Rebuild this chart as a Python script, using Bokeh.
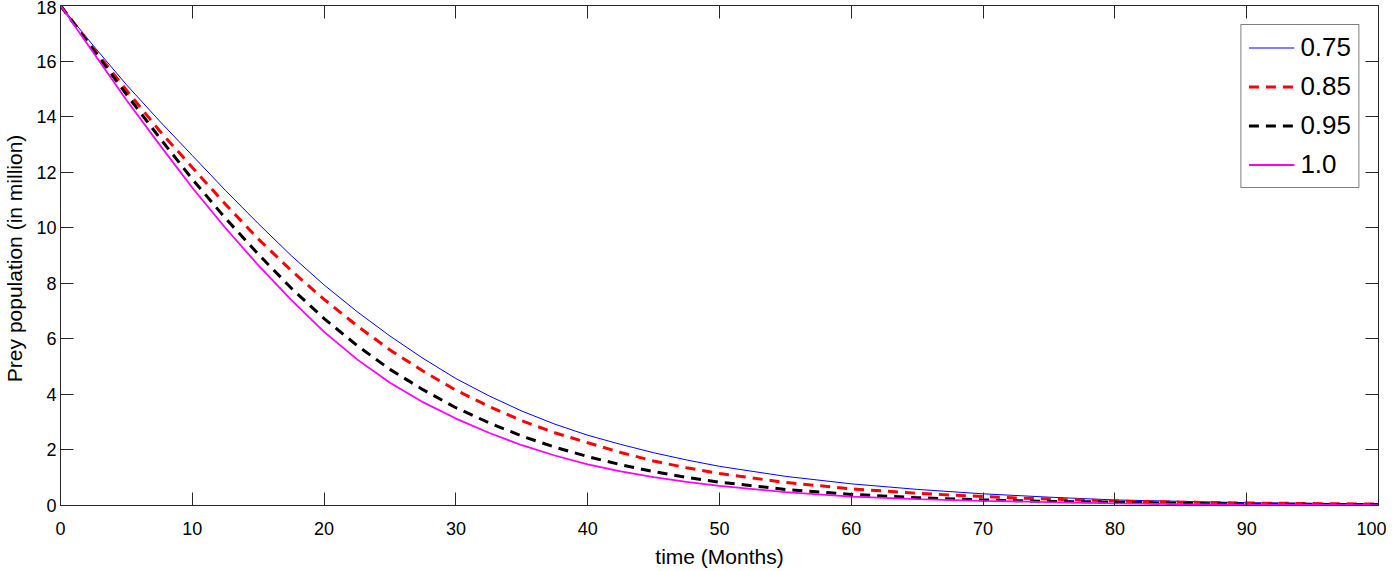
from bokeh.plotting import figure
from bokeh.models import LinearAxis, FixedTicker, Range1d, Legend, LegendItem
from bokeh.embed import file_html
from bokeh.resources import INLINE

months = [0, 2.5, 5, 7.5, 10, 12.5, 15, 17.5, 20, 22.5, 25, 27.5, 30, 32.5, 35, 37.5, 40, 42.5, 45, 47.5, 50,
          55, 60, 65, 70, 75, 80, 85, 90, 95, 100]
prey_075 = [18, 16.55, 15.15, 13.85, 12.6, 11.35, 10.15, 9.0, 7.94, 6.98, 6.1, 5.3, 4.57, 3.95, 3.4, 2.93, 2.53, 2.2, 1.9, 1.64, 1.41,
            1.05, 0.78, 0.58, 0.42, 0.3, 0.2, 0.15, 0.1, 0.08, 0.06]
prey_085 = [18, 16.45, 14.95, 13.5, 12.17, 10.85, 9.6, 8.46, 7.42, 6.47, 5.6, 4.84, 4.15, 3.57, 3.05, 2.62, 2.26, 1.91, 1.6, 1.36, 1.15,
            0.83, 0.6, 0.44, 0.32, 0.23, 0.16, 0.12, 0.09, 0.07, 0.05]
prey_095 = [18, 16.4, 14.8, 13.25, 11.75, 10.35, 9.05, 7.83, 6.73, 5.76, 4.9, 4.17, 3.52, 2.98, 2.5, 2.1, 1.76, 1.47, 1.22, 1.01, 0.84,
            0.58, 0.4, 0.28, 0.2, 0.15, 0.12, 0.08, 0.05, 0.04, 0.03]
prey_100 = [18, 16.3, 14.6, 13.0, 11.44, 10.0, 8.65, 7.4, 6.25, 5.26, 4.42, 3.72, 3.13, 2.62, 2.17, 1.8, 1.48, 1.23, 1.02, 0.85, 0.71,
            0.48, 0.32, 0.23, 0.17, 0.12, 0.08, 0.05, 0.03, 0.02, 0.015]
labels = ["0.75", "0.85", "0.95", "1.0"]
x_ticks = [0, 10, 20, 30, 40, 50, 60, 70, 80, 90, 100]
y_ticks = [0, 2, 4, 6, 8, 10, 12, 14, 16, 18]

FONT = "Liberation Sans"
AX = "#262626"

p = figure(width=1386, height=570, output_backend="svg", toolbar_location=None,
           x_range=Range1d(0, 100), y_range=Range1d(0, 18),
           min_border_left=52, min_border_right=8, min_border_top=5, min_border_bottom=0,
           x_axis_label="time (Months)", y_axis_label="Prey population  (in million)")
p.xgrid.visible = False
p.ygrid.visible = False
p.outline_line_color = None
p.background_fill_color = "white"
p.border_fill_color = "white"

for ax, ticks in ((p.xaxis[0], x_ticks), (p.yaxis[0], y_ticks)):
    ax.ticker = FixedTicker(ticks=ticks)
    ax.major_tick_in = 13
    ax.major_tick_out = 0
    ax.minor_tick_line_color = None
    ax.axis_line_color = AX
    ax.major_tick_line_color = AX
    ax.major_label_text_font = FONT
    ax.major_label_text_font_size = "18px"
    ax.major_label_text_color = "black"
    ax.axis_label_text_font = FONT
    ax.axis_label_text_font_size = "21px"
    ax.axis_label_text_font_style = "normal"
    ax.axis_label_text_color = "black"
p.xaxis[0].major_label_standoff = 16
p.xaxis[0].axis_label_standoff = 7
p.yaxis[0].major_label_standoff = 4
p.yaxis[0].axis_label_standoff = 7

top = LinearAxis(ticker=FixedTicker(ticks=x_ticks), major_label_text_font_size="0px",
                 major_tick_in=13, major_tick_out=0, minor_tick_line_color=None,
                 axis_line_color=AX, major_tick_line_color=AX, major_label_standoff=0)
right = LinearAxis(ticker=FixedTicker(ticks=y_ticks), major_label_text_font_size="0px",
                   major_tick_in=13, major_tick_out=0, minor_tick_line_color=None,
                   axis_line_color=AX, major_tick_line_color=AX, major_label_standoff=0)
p.add_layout(top, "above")
p.add_layout(right, "right")

r1 = p.line(months, prey_075, line_color="#0000ff", line_width=1)
r2 = p.line(months, prey_085, line_color="#ff0000", line_width=3, line_dash="10 7")
r3 = p.line(months, prey_095, line_color="#000000", line_width=3, line_dash="10 7")
r4 = p.line(months, prey_100, line_color="#ff00ff", line_width=1.8)

legend = Legend(items=[LegendItem(label=labels[0], renderers=[r1]),
                       LegendItem(label=labels[1], renderers=[r2]),
                       LegendItem(label=labels[2], renderers=[r3]),
                       LegendItem(label=labels[3], renderers=[r4])],
                location="top_right", label_text_font=FONT, label_text_font_size="26px",
                label_text_color="black",
                glyph_width=46, glyph_height=31, spacing=8, padding=7, margin=19,
                label_standoff=6, border_line_color="black", border_line_width=1,
                background_fill_alpha=1)
p.add_layout(legend)

open("out.html", "w").write(file_html(p, INLINE))
